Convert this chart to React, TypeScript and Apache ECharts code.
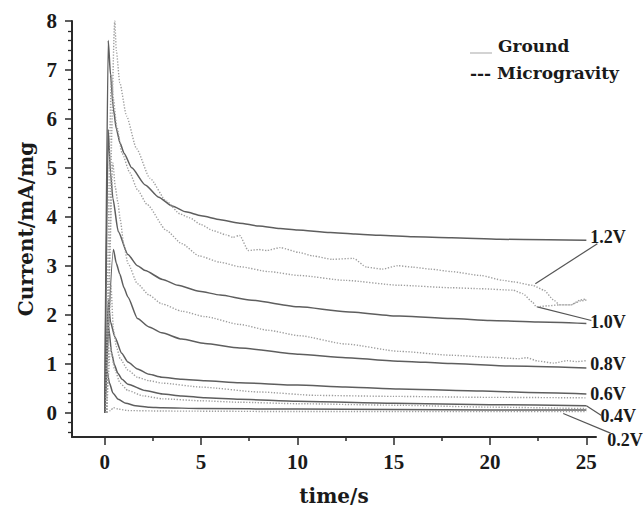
import React, { useEffect, useRef } from "react";
import * as echarts from "echarts";

// ---- data (time/s, current mA/mg) ----
const G12 = [[0,0],[0.18,7.6],[0.3,6.9],[0.45,6.2],[0.6,5.8],[0.8,5.5],[1.0,5.3],[1.4,5.0],[2.1,4.65],[2.8,4.4],[3.5,4.22],[4.2,4.1],[5,4.02],[6,3.94],[7,3.87],[8,3.81],[9.1,3.76],[10,3.73],[11.7,3.68],[13,3.65],[14.3,3.62],[16,3.59],[18,3.57],[20.5,3.54],[23,3.53],[25,3.52]];
const G10 = [[0,0],[0.18,5.78],[0.3,4.9],[0.42,4.38],[0.7,3.7],[1.2,3.23],[1.7,3.0],[2.1,2.9],[3,2.72],[3.8,2.6],[4.9,2.48],[6,2.4],[7.5,2.3],[10.1,2.16],[12.5,2.06],[15.3,1.97],[18,1.92],[20,1.88],[22.5,1.85],[25,1.82]];
const G08 = [[0,0],[0.45,3.33],[0.6,3.05],[0.78,2.83],[1.0,2.55],[1.2,2.36],[1.7,1.92],[2.3,1.75],[2.96,1.63],[4,1.5],[5.2,1.41],[7,1.32],[10.1,1.19],[12.5,1.12],[15.3,1.05],[18,1.0],[21,0.95],[25,0.91]];
const G06 = [[0,0],[0.18,2.3],[0.3,1.85],[0.52,1.55],[0.88,1.21],[1.2,1.03],[1.7,0.89],[2.3,0.78],[2.96,0.72],[4,0.68],[5.2,0.65],[7,0.61],[10,0.56],[12.5,0.52],[15.3,0.48],[19.6,0.44],[22,0.41],[25,0.38]];
const G04 = [[0,0],[0.2,1.75],[0.36,1.21],[0.5,0.98],[0.67,0.81],[0.9,0.68],[1.2,0.58],[2.1,0.45],[3,0.38],[4,0.34],[5.2,0.3],[7,0.27],[10,0.23],[15,0.19],[20,0.16],[25,0.14]];
const G02 = [[0,0],[0.1,0.88],[0.25,0.6],[0.42,0.4],[0.7,0.27],[1.1,0.19],[1.6,0.14],[2.3,0.11],[3,0.1],[5,0.08],[10,0.07],[15,0.06],[20,0.05],[25,0.05]];

const M12 = [[0.1,0],[0.52,8.0],[0.6,7.4],[0.78,6.74],[1.13,6.06],[1.65,5.39],[2.34,4.79],[3.2,4.32],[3.9,4.06],[4.4,3.98],[5,3.84],[5.6,3.72],[6.3,3.63],[6.65,3.58],[7.0,3.62],[7.45,3.31],[8.0,3.33],[8.4,3.31],[9.1,3.37],[10.1,3.27],[10.8,3.2],[11.8,3.13],[12.9,3.15],[13.6,2.97],[14.4,2.93],[15.2,3.0],[16,2.97],[16.9,2.93],[18,2.88],[19.5,2.8],[20.7,2.7],[21.2,2.67],[22.2,2.6],[22.8,2.5],[23.3,2.3],[23.6,2.2],[24.2,2.2],[24.7,2.3],[25,2.32]];
const M10 = [[0.05,0],[0.35,6.9],[0.45,6.4],[0.62,5.85],[0.9,5.3],[1.3,4.9],[1.7,4.55],[2.2,4.25],[3.2,3.72],[4.0,3.45],[4.9,3.2],[6,3.07],[7,2.98],[8.5,2.88],[10.1,2.8],[12.5,2.7],[15.3,2.6],[18,2.55],[19.5,2.53],[21.2,2.5],[21.7,2.43],[22.2,2.26],[22.4,2.16],[23,2.18],[23.6,2.2],[24.2,2.2],[24.7,2.28],[25,2.3]];
const M08 = [[0.1,0],[0.42,5.1],[0.55,4.6],[0.68,4.3],[0.8,3.95],[1.0,3.4],[1.2,3.05],[1.7,2.63],[2.3,2.4],[2.96,2.22],[4,2.07],[5.2,1.96],[7,1.8],[8.5,1.68],[10.1,1.57],[12.5,1.4],[15.3,1.25],[18,1.17],[20,1.13],[21.5,1.1],[21.9,1.12],[22.5,1.05],[23.3,1.01],[24,1.06],[24.5,1.04],[25,1.06]];
const M06 = [[0.1,0],[0.32,2.6],[0.45,1.7],[0.6,1.35],[0.8,1.1],[1.2,0.87],[1.7,0.72],[2.3,0.65],[3,0.6],[5,0.52],[8,0.42],[11,0.35],[15,0.33],[20,0.31],[25,0.3]];
const M04 = [[0.1,0],[0.3,1.35],[0.5,0.9],[0.8,0.6],[1.2,0.45],[2,0.34],[3,0.28],[5,0.24],[7,0.21],[10,0.18],[15,0.15],[20,0.11],[25,0.08]];
const M02 = [[0.1,0],[0.3,0.04],[0.45,0.1],[0.7,0.07],[1.2,0.04],[3,0.03],[10,0.02],[25,0.02]];

const GROUND = [G12, G10, G08, G06, G04, G02];
const MICRO = [M12, M10, M08, M06, M04, M02];

const X_LABELS = [0, 5, 10, 15, 20, 25];
const X_MINOR = [2.5, 7.5, 12.5, 17.5, 22.5];
const Y_LABELS = [0, 1, 2, 3, 4, 5, 6, 7, 8];

const VOLT_LABELS = ["1.2V", "1.0V", "0.8V", "0.6V", "0.4V", "0.2V"];
const VOLT_POS = [[25.2, 3.58], [25.2, 1.84], [25.2, 0.99], [25.2, 0.38], [25.73, -0.08], [26.08, -0.57]];
const LEADERS = [
  [[22.35, 2.63], [25.57, 3.45]],
  [[22.45, 2.16], [25.26, 1.88]],
  [[25.0, 0.14], [25.78, -0.06]],
  [[23.8, -0.02], [26.25, -0.42]],
];

const Y_MINOR: number[] = [];
for (let i = -2; i <= 40; i++) {
  if (i % 5 !== 0) Y_MINOR.push(Math.round(i * 20) / 100);
}

const NUM_FONT = "Liberation Serif";
const TXT_FONT = "DejaVu Serif";
const AXIS_COLOR = "#2a2a2a";

export default function App() {
  const ref = useRef<HTMLDivElement>(null);
  useEffect(() => {
    if (!ref.current) return;
    const chart = echarts.init(ref.current, undefined, { renderer: "svg" });
    const series: any[] = [];
    GROUND.forEach((d, i) => {
      series.push({
        type: "line", name: "Ground " + VOLT_LABELS[i], data: d, showSymbol: false,
        smooth: 0.2, smoothMonotone: "x",
        lineStyle: { color: "#5e5e5e", width: 1.5 },
      });
    });
    MICRO.forEach((d, i) => {
      series.push({
        type: "line", name: "Microgravity " + VOLT_LABELS[i], data: d, showSymbol: false,
        smooth: 0.2, smoothMonotone: "x",
        lineStyle: { color: "#9e9e9e", width: 1.4, type: [1.3, 1.6] },
      });
    });
    const xBase = { type: "value", min: -1.7, max: 25.5, splitLine: { show: false } };
    const yBase = { type: "value", min: -0.5, max: 8, splitLine: { show: false } };
    chart.setOption({
      animation: false,
      backgroundColor: "#ffffff",
      grid: { left: 72, top: 21, width: 524, height: 421 },
      xAxis: [
        {
          ...xBase,
          name: "time/s", nameLocation: "middle", nameGap: 49,
          nameTextStyle: { fontFamily: TXT_FONT, fontWeight: "bold", fontSize: 20, color: "#1a1a1a" },
          axisLine: { show: true, onZero: false, lineStyle: { color: AXIS_COLOR, width: 2 } },
          axisTick: { show: true, customValues: X_LABELS, length: 8, lineStyle: { color: AXIS_COLOR, width: 1.5 } },
          axisLabel: { customValues: X_LABELS, margin: 14, fontFamily: NUM_FONT, fontWeight: "bold", fontSize: 21, color: "#1a1a1a" },
        },
        {
          ...xBase, position: "bottom",
          axisLine: { show: false, onZero: false },
          axisTick: { show: true, customValues: X_MINOR, length: 4, lineStyle: { color: AXIS_COLOR, width: 1.5 } },
          axisLabel: { show: false },
        },
      ],
      yAxis: [
        {
          ...yBase,
          name: "Current/mA/mg", nameLocation: "middle", nameGap: 28,
          nameTextStyle: { fontFamily: TXT_FONT, fontWeight: "bold", fontSize: 20, color: "#1a1a1a" },
          axisLine: { show: true, onZero: false, lineStyle: { color: AXIS_COLOR, width: 2 } },
          axisTick: { show: true, customValues: Y_LABELS, length: 7, lineStyle: { color: AXIS_COLOR, width: 1.5 } },
          axisLabel: { customValues: Y_LABELS, margin: 15, fontFamily: NUM_FONT, fontWeight: "bold", fontSize: 21, color: "#1a1a1a" },
        },
        {
          ...yBase, position: "left",
          axisLine: { show: false, onZero: false },
          axisTick: { show: true, customValues: Y_MINOR, length: 4, lineStyle: { color: AXIS_COLOR, width: 1.3 } },
          axisLabel: { show: false },
        },
      ],
      series,
    });

    const px = (p: number[]) => chart.convertToPixel({ gridIndex: 0 }, p) as number[];
    const graphics: any[] = [];
    VOLT_LABELS.forEach((t, i) => {
      const p = px(VOLT_POS[i]);
      graphics.push({
        type: "text", x: p[0], y: p[1],
        style: { text: t, fill: "#1a1a1a", font: `bold 18px "${NUM_FONT}"`, verticalAlign: "middle", align: "left" },
      });
    });
    LEADERS.forEach((seg) => {
      const a = px(seg[0]);
      const b = px(seg[1]);
      graphics.push({
        type: "line", shape: { x1: a[0], y1: a[1], x2: b[0], y2: b[1] },
        style: { stroke: "#555555", lineWidth: 1.2 },
      });
    });
    // legend
    graphics.push({ type: "line", shape: { x1: 470, y1: 53, x2: 492, y2: 53 }, style: { stroke: "#c4c4c4", lineWidth: 1.5 } });
    graphics.push({ type: "text", x: 498, y: 46, style: { text: "Ground", fill: "#1a1a1a", font: `bold 17px "${TXT_FONT}"`, verticalAlign: "middle", align: "left" } });
    graphics.push({ type: "text", x: 470, y: 73, style: { text: "--- Microgravity", fill: "#1a1a1a", font: `bold 17px "${TXT_FONT}"`, verticalAlign: "middle", align: "left" } });
    chart.setOption({ graphic: graphics });

    return () => chart.dispose();
  }, []);
  return <div ref={ref} style={{ position: "absolute", left: 0, top: 0, width: 643, height: 511 }} />;
}
